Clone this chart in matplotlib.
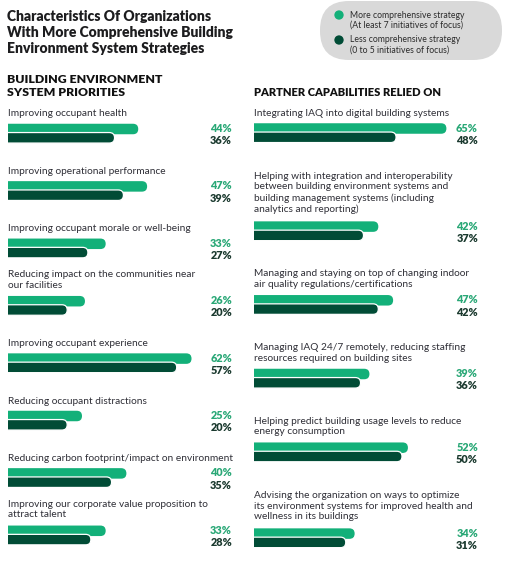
import matplotlib
matplotlib.use("Agg")
import matplotlib.pyplot as plt
from matplotlib.patches import FancyBboxPatch

# ---- data -------------------------------------------------------------
left_labels = [
    "Improving occupant health",
    "Improving operational performance",
    "Improving occupant morale or well-being",
    "Reducing impact on the communities near\nour facilities",
    "Improving occupant experience",
    "Reducing occupant distractions",
    "Reducing carbon footprint/impact on environment",
    "Improving our corporate value proposition to\nattract talent",
]
left_more = [44, 47, 33, 26, 62, 25, 40, 33]
left_less = [36, 39, 27, 20, 57, 20, 35, 28]

right_labels = [
    "Integrating IAQ into digital building systems",
    "Helping with integration and interoperability\nbetween building environment systems and\n"
    "building management systems (including\nanalytics and reporting)",
    "Managing and staying on top of changing indoor\nair quality regulations/certifications",
    "Managing IAQ 24/7 remotely, reducing staffing\nresources required on building sites",
    "Helping predict building usage levels to reduce\nenergy consumption",
    "Advising the organization on ways to optimize\nits environment systems for improved health and\n"
    "wellness in its buildings",
]
right_more = [65, 42, 47, 39, 52, 34]
right_less = [48, 37, 42, 36, 50, 31]

series_names = ["More comprehensive strategy", "Less comprehensive strategy"]
series_notes = ["(At least 7 initiatives of focus)", "(0 to 5 initiatives of focus)"]

# ---- style ------------------------------------------------------------
LIGHT = "#13b079"
DARK = "#014c36"
LIGHT_TXT = "#2aa877"
DARK_TXT = "#1b3a2f"
LABEL_TXT = "#2e2e36"
FONT = ["Lato", "DejaVu Sans"]

W, H, DPI = 513, 563, 100
PX = 2.96  # pixels per percentage point

fig = plt.figure(figsize=(W / DPI, H / DPI), dpi=DPI)
bg = fig.add_axes([0, 0, 1, 1])
bg.set_xlim(0, W)
bg.set_ylim(H, 0)
bg.axis("off")


def panel_axes(x0):
    ax = fig.add_axes([x0 / W, 0, 100 * PX / W, 1])
    ax.set_xlim(0, 100)
    ax.set_ylim(H, 0)
    ax.axis("off")
    return ax


def rounded_barh(ax, ys, values, height, color, edge, lw, z):
    bars = ax.barh(ys, values, height=height, color=color)
    for b in bars:
        x, y, w, h = b.get_x(), b.get_y(), b.get_width(), b.get_height()
        r = abs(h) / (2 * PX)
        patch = FancyBboxPatch(
            (x - r, y), w + r, h,
            boxstyle=f"round,pad=0,rounding_size={r}",
            mutation_aspect=PX,
            facecolor=color, edgecolor=edge, linewidth=lw, zorder=z,
        )
        ax.add_patch(patch)
        b.remove()


def draw_panel(ax, labels, more, less, centers, pct_x):
    less_c = [c + 8.8 for c in centers]
    rounded_barh(ax, centers, more, 10.5, LIGHT, "none", 0, 2)
    rounded_barh(ax, less_c, less, 10.5, DARK, "white", 0.9, 3)
    for lab, c in zip(labels, centers):
        n = lab.count("\n") + 1
        ax.text(0, c - 15 - (n - 1) * 6.2, lab, ha="left", va="center",
                fontsize=7.3, color=LABEL_TXT, family=FONT, linespacing=1.25,
                clip_on=False)
    for m, l, c in zip(more, less, centers):
        bg.text(pct_x, c - 0.5, f"{m}%", ha="right", va="center", fontsize=7.8,
                fontweight="heavy", color=LIGHT_TXT, family=FONT)
        bg.text(pct_x, c + 11.8, f"{l}%", ha="right", va="center", fontsize=7.8,
                fontweight="heavy", color=DARK_TXT, family=FONT)


# left panel: evenly spaced rows
left_centers = [129 + 57.4 * i for i in range(len(left_labels))]

# right panel: rows flow after multi-line labels
right_centers = []
first = 114.0
for lab in right_labels:
    n = lab.count("\n") + 1
    c = first + (n - 1) * 12.2 + 14.5
    right_centers.append(c)
    first = c + 47

axl = panel_axes(8)
axr = panel_axes(254)
draw_panel(axl, left_labels, left_more, left_less, left_centers, 232)
draw_panel(axr, right_labels, right_more, right_less, right_centers, 478)

# ---- titles -----------------------------------------------------------
bg.text(7, 32.5, "Characteristics Of Organizations\nWith More Comprehensive Building\n"
        "Environment System Strategies", ha="left", va="center", fontsize=10.0,
        fontweight="heavy", color="#1d1d1f", family=FONT, linespacing=1.3)
bg.text(7, 86, "BUILDING ENVIRONMENT\nSYSTEM PRIORITIES", ha="left", va="center",
        fontsize=8.8, fontweight="heavy", color="#111111", family=FONT,
        linespacing=1.2)
bg.text(254, 92.5, "PARTNER CAPABILITIES RELIED ON", ha="left", va="center",
        fontsize=8.0, fontweight="heavy", color="#111111", family=FONT)

# ---- legend pill ------------------------------------------------------
pill = FancyBboxPatch((320, 1), 182, 59, boxstyle="round,pad=0,rounding_size=29",
                      facecolor="#d9d9d9", edgecolor="none", zorder=1)
bg.add_patch(pill)
bg.scatter([339, 339], [15, 40], s=45, c=[LIGHT, DARK], zorder=3, linewidths=0)
for i, (name, note) in enumerate(zip(series_names, series_notes)):
    y0 = 15 + 25 * i
    bg.text(350, y0, name, ha="left", va="center", fontsize=6.2,
            color="#2b2b2b", family=FONT, zorder=3)
    bg.text(350, y0 + 10.5, note, ha="left", va="center", fontsize=6.2,
            color="#2b2b2b", family=FONT, zorder=3)

fig.savefig("out.png", dpi=DPI)
